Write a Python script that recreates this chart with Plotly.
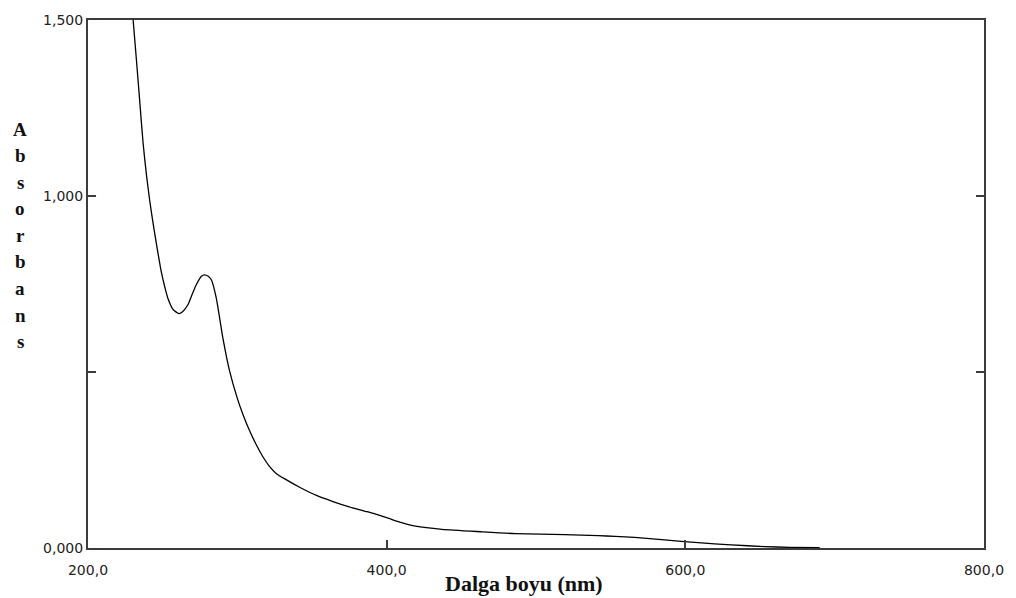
import plotly.graph_objects as go

# UV-Vis absorption spectrum
wavelength_nm = [228, 230.2, 232.5, 234.7, 236.9, 239.2, 241.4, 243.6, 245.9, 249.2, 251.5,
                 253.6, 256.9, 260.9, 263.5, 266.9, 269.5, 272.5, 276, 278.1, 280.5, 282.6,
                 285.9, 290.3, 294.8, 300, 303.7, 308, 312.6, 317, 321.5, 326, 331.5, 342,
                 352.6, 364, 374.9, 387, 399.4, 410, 419.4, 437, 464, 486, 519.5, 541.7,
                 553, 566, 586, 608.5, 630.7, 653, 670, 690]
absorbance = [1.615, 1.501, 1.383, 1.266, 1.150, 1.058, 0.985, 0.922, 0.862, 0.782, 0.740,
              0.708, 0.678, 0.666, 0.672, 0.691, 0.718, 0.748, 0.772, 0.776, 0.772, 0.762,
              0.710, 0.597, 0.503, 0.425, 0.380, 0.335, 0.294, 0.260, 0.232, 0.212, 0.197, 0.172,
              0.150, 0.132, 0.117, 0.103, 0.087, 0.072, 0.062, 0.053, 0.046, 0.041, 0.038, 0.035,
              0.033, 0.030, 0.023, 0.015, 0.009, 0.004, 0.002, 0.001]

x_tick_vals = [200, 400, 600, 800]
x_tick_text = ["200,0", "400,0", "600,0", "800,0"]
y_tick_vals = [0.0, 0.5, 1.0, 1.5]
y_tick_text = ["0,000", "", "1,000", "1,500"]

x_title = "Dalga boyu (nm)"
y_title = "Absorbans"

FRAME = "#3c3c3c"
TICK_FONT = dict(family="DejaVu Sans", size=14, color="#222222")
TITLE_FONT = dict(family="Liberation Serif", size=22, color="#111111")

fig = go.Figure()
fig.add_trace(go.Scatter(
    x=wavelength_nm, y=absorbance, mode="lines",
    line=dict(color="#000000", width=1.3, shape="spline", smoothing=0.6),
    hoverinfo="skip", showlegend=False,
))

fig.update_xaxes(
    range=[200, 800], tickvals=x_tick_vals, ticktext=x_tick_text,
    ticks="inside", ticklen=8, tickwidth=1.5, tickcolor=FRAME,
    showline=True, linecolor=FRAME, linewidth=2, mirror=True,
    showgrid=False, zeroline=False, tickfont=TICK_FONT,
    ticklabelstandoff=8,
)
fig.update_yaxes(
    range=[0, 1.5], tickvals=y_tick_vals, ticktext=y_tick_text,
    ticks="inside", ticklen=8, tickwidth=1.5, tickcolor=FRAME,
    showline=True, linecolor=FRAME, linewidth=2, mirror="allticks",
    showgrid=False, zeroline=False, tickfont=TICK_FONT,
    ticklabelstandoff=0,
)

annotations = [dict(
    text="<b>%s</b>" % x_title, xref="paper", yref="paper",
    x=(525 - 88) / 899, y=-(584 - 548) / 532, showarrow=False,
    font=TITLE_FONT, xanchor="center", yanchor="middle",
)]
# vertical axis title, one letter per row
for i, ch in enumerate(y_title):
    py = 126 + i * 26.75
    annotations.append(dict(
        text="<b>%s</b>" % ch, xref="paper", yref="paper",
        x=(20 - 88) / 899, y=(548 - py) / 532, showarrow=False,
        font=dict(family="Liberation Serif", size=19, color="#111111"),
        xanchor="center", yanchor="middle",
    ))

fig.update_layout(
    width=1016, height=598,
    margin=dict(l=88, r=29, t=16, b=50),
    paper_bgcolor="white", plot_bgcolor="white",
    annotations=annotations,
)

fig.write_html("out.html")
